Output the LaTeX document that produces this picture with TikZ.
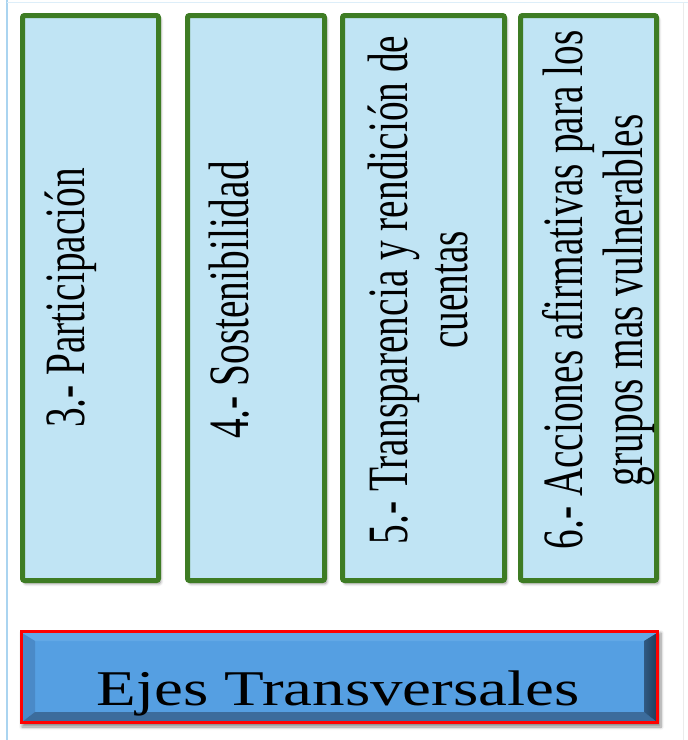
\documentclass[tikz,border=0pt]{standalone}
\usepackage{fontspec}
\setmainfont{Liberation Serif}
\usetikzlibrary{shadows.blur}
\definecolor{cajafondo}{RGB}{192,228,244}
\definecolor{cajaborde}{RGB}{62,124,36}
\definecolor{ejefondo}{RGB}{85,159,226}
\definecolor{biselsup}{RGB}{98,168,230}
\definecolor{biselizq}{RGB}{74,138,200}
\definecolor{biselinf}{RGB}{60,108,156}
\definecolor{biselder}{RGB}{32,60,90}
\definecolor{marco}{RGB}{170,212,240}
\begin{document}
\begin{tikzpicture}[x=1pt,y=-1pt,
  sombra/.style={blur shadow={shadow xshift=2pt,shadow yshift=-3pt,shadow blur steps=6,shadow blur radius=3pt,shadow opacity=45}},
  caja/.style={draw=cajaborde,line width=5pt,fill=cajafondo,rounded corners=2pt,sombra},
  texto/.style={rotate=90,anchor=north,inner sep=0pt,font=\fontsize{57}{60}\selectfont}]
\useasboundingbox(0,0)rectangle(688,740);
\draw[marco,line width=1.5pt](7,0)--(7,740);
\draw[marco!40,line width=1pt](7,2)--(688,2);
\draw[black!8,line width=1pt](683,2)--(683,740);
\draw[caja](22.5,15.5)rectangle(158.5,580.5);
\draw[caja](187.5,15.5)rectangle(324.5,580.5);
\draw[caja](342.5,15.5)rectangle(504.5,580.5);
\draw[caja](520.5,15.5)rectangle(656.5,580.5);
\node[texto](eje3)at(45,298){\scalebox{0.69}[1]{3.- Participación}};
\node[texto](eje4)at(209,300){\scalebox{0.69}[1]{4.- Sostenibilidad}};
\node[texto](eje5)at(365,290){\scalebox{0.69}[1]{\begin{tabular}{@{}c@{}}5.- Transparencia y rendición de\\cuentas\end{tabular}}};
\node[texto](eje6)at(540,290){\scalebox{0.69}[1]{\begin{tabular}{@{}c@{}}6.- Acciones afirmativas para los\\grupos mas vulnerables\kern30pt\end{tabular}}};
\fill[red,sombra](20,630)rectangle(659,724);
\fill[ejefondo](22,633)rectangle(657,722);
\fill[biselsup](22,633)--(657,633)--(644,641)--(35,641)--cycle;
\fill[biselizq](22,633)--(35,641)--(35,712)--(22,722)--cycle;
\fill[biselinf](22,722)--(657,722)--(644,712)--(35,712)--cycle;
\shade[left color=biselder!70!ejefondo,right color=biselder](644,641)--(657,633)--(657,722)--(644,712)--cycle;
\draw[red,line width=3pt](21.5,631.5)rectangle(657.5,722.5);
\node[anchor=base,inner sep=0pt,font=\fontsize{50}{60}\selectfont](ejes)at(338,705){\scalebox{1.3}[1]{Ejes Transversales}};
\end{tikzpicture}
\end{document}
